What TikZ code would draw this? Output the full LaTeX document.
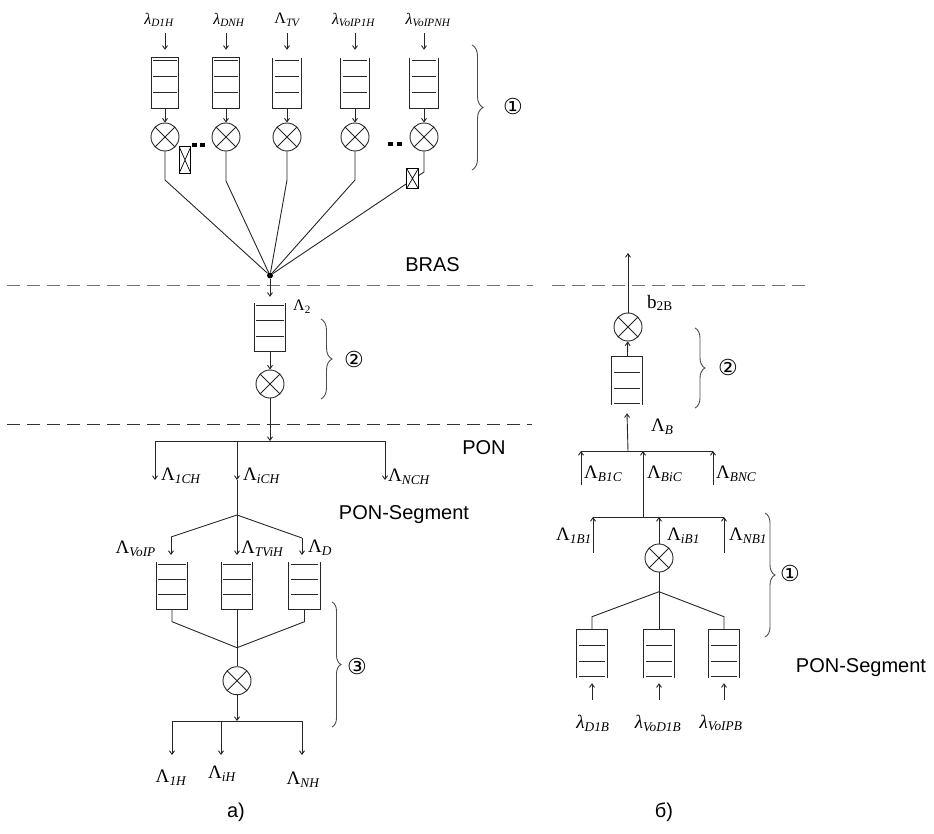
\documentclass[tikz,border=0pt]{standalone}
\usepackage{fontspec}
\setmainfont{Liberation Serif}
\newfontfamily\arialf{Liberation Sans}
\newfontfamily\dejavuf{DejaVu Sans}
\usetikzlibrary{arrows.meta,calc,decorations.pathreplacing}
\newcommand{\La}[1]{Λ\textsubscript{\itshape #1}}
\newcommand{\la}[1]{\textit{λ}\textsubscript{\itshape #1}}
\newcommand{\qdown}[1]{%
  \draw[ln] (#1.north west) -- (#1.south west) -- (#1.south east) -- (#1.north east);
  \foreach \f in {0.05,0.37,0.69} \draw[ln] ($(#1.north west)!\f!(#1.south west)+(2,0)$) -- ($(#1.north east)!\f!(#1.south east)+(-2,0)$);}
\newcommand{\qup}[1]{%
  \draw[ln] (#1.south west) -- (#1.north west) -- (#1.north east) -- (#1.south east);
  \foreach \f in {0.33,0.65,0.96} \draw[ln] ($(#1.north west)!\f!(#1.south west)+(2,0)$) -- ($(#1.north east)!\f!(#1.south east)+(-2,0)$);}
\begin{document}
\begin{tikzpicture}[x=1pt,y=-1pt,
  ln/.style={line width=0.9pt, draw=black!85},
  arr/.style={ln, -{Straight Barb[length=3.5pt,width=5pt]}},
  dashln/.style={line width=1.3pt, dash pattern=on 13.3pt off 6.7pt},
  qn/.style={rectangle, draw=none, inner sep=0, minimum width=30pt, minimum height=48pt},
  mult/.style={circle, draw=black!85, line width=0.9pt, minimum size=28pt, inner sep=0,
    path picture={\draw[line width=0.9pt, draw=black!85] (path picture bounding box.north west) -- (path picture bounding box.south east)
      (path picture bounding box.south west) -- (path picture bounding box.north east);}},
  boxx/.style={rectangle, draw=black, line width=0.9pt, fill=white, inner sep=0, minimum width=11.7pt, minimum height=26.7pt,
    path picture={\draw[line width=0.7pt] (path picture bounding box.north west) -- (path picture bounding box.south east)
      (path picture bounding box.south west) -- (path picture bounding box.north east);}},
  dotn/.style={circle, fill=black, inner sep=0, minimum size=6pt},
  lbl/.style={font=\fontsize{19}{19}\selectfont, inner sep=1pt},
  lbls/.style={font=\fontsize{16}{16}\selectfont, inner sep=1pt},
  sans/.style={font=\arialf\fontsize{20}{20}\selectfont, inner sep=1pt},
  num/.style={font=\dejavuf\fontsize{22}{22}\selectfont, inner sep=0pt},
  brc/.style={draw=black!70, line width=0.9pt, decorate, decoration={brace, amplitude=#1}},
  brc/.default=10pt
]
\useasboundingbox (0,0) rectangle (934,834);

% dashed separators
\draw[dashln, draw=black!55] (7,285.5) -- (533,285.5);
\draw[dashln, draw=black!55] (551.7,285.5) -- (805,285.5);
\draw[dashln, draw=black!80] (7,424.3) -- (532,424.3);

% ---------- top section (a) ----------
\node[lbls] (l1) at (159,20) {\la{D1H}};
\node[lbls] (l2) at (229,20) {\la{DNH}};
\node[lbls] (l3) at (287,20) {\La{TV}};
\node[lbls] (l4) at (353.5,20) {\la{VoIP1H}};
\node[lbls] (l5) at (428,20) {\la{VoIPNH}};

\node[qn, minimum width=27pt, minimum height=50pt] (q1) at (165,83) {};
\node[qn, minimum width=27pt, minimum height=50pt] (q2) at (226,83) {};
\node[qn, minimum width=28pt, minimum height=50pt] (q3) at (287,83) {};
\node[qn, minimum width=28pt, minimum height=50pt] (q4) at (355,83) {};
\node[qn, minimum width=28pt, minimum height=50pt] (q5) at (424,83) {};
\qdown{q1}\qdown{q2}\qdown{q3}\qdown{q4}\qdown{q5}
\draw[ln] (q1.north west) -- (q1.north east);
\draw[ln] (q2.north west) -- (q2.north east);

\foreach \q in {q1,q2,q3,q4,q5}
  \draw[arr] ([yshift=25pt]\q.north) -- ([yshift=8pt]\q.north);

\node[mult] (m1) at (165,137) {};
\node[mult] (m2) at (226,137) {};
\node[mult] (m3) at (287,137) {};
\node[mult] (m4) at (355,137) {};
\node[mult] (m5) at (424,137) {};
\foreach \i in {1,...,5} \draw[arr] (q\i) -- (m\i);

\node[dotn] (J) at (270,275.5) {};
\coordinate (b1) at (165,180);
\coordinate (b2) at (226,181);
\coordinate (b3) at (287,180);
\coordinate (b4) at (355,180);
\coordinate (b5) at (424,172);
\foreach \i in {1,...,5} \draw[ln] (m\i) -- (b\i) -- (J);

\node[boxx] (x1) at (185,160) {};
\node[boxx, minimum height=20pt] (x5) at (412.5,178.5) {};

\fill (191.7,142.7) rectangle ++(5,4);
\fill (200,142.7) rectangle ++(5,4);
\fill (388.3,141.7) rectangle ++(5,4);
\fill (396.7,141.7) rectangle ++(5,4);

\draw[brc=11pt] (472,45) -- (472,170);
\node[num] (n1) at (513,106) {①};

\node[sans] (bras) at (432.5,265) {BRAS};

% ---------- middle ----------
\node[qn, minimum width=31pt, minimum height=48pt] (qm) at (270,327) {};
\qdown{qm}
\draw[arr, shorten >=6pt] (J) -- (qm);
\node[lbls, anchor=west] (lam2) at (292,307) {Λ\textsubscript{2}};
\node[mult] (mm) at (270,384) {};
\draw[arr] (qm) -- (mm);
\draw[brc=11pt] (321,319) -- (321,399);
\node[num] (n2) at (354,359) {②};

\coordinate (bc) at (270,441);
\coordinate (bl) at (155,441);
\coordinate (br) at (385,441);
\coordinate (bi) at (237,441);
\draw[arr] (mm) -- (bc);
\draw[ln] (bl) -- (br);
\coordinate (e1) at (155,480);
\coordinate (eN) at (385,480);
\coordinate (ei) at (237,480);
\draw[arr] (bl) -- (e1);
\draw[arr] (br) -- (eN);
\draw[arr] (bi) -- (ei);
\coordinate (S) at (237,515);
\draw[ln] (ei) -- (S);
\node[lbl, anchor=west] (L1CH) at (160,476) {\La{1CH}};
\node[lbl, anchor=west] (LiCH) at (242,476) {\La{iCH}};
\node[lbl, anchor=west] (LNCH) at (387,477) {\La{NCH}};

\node[sans] (pon) at (484,448) {PON};
\node[sans] (pons) at (404,515) {PON-Segment};

% ---------- lower (a) ----------
\coordinate (sl) at (171,537);
\coordinate (sr) at (302,538);
\coordinate (ta) at (171,555);
\coordinate (tb) at (237,555);
\coordinate (tc) at (302,555);
\draw[ln] (S) -- (sl);
\draw[ln] (S) -- (sr);
\draw[arr] (sl) -- (ta);
\draw[arr] (sr) -- (tc);
\draw[arr] (S) -- (tb);
\node[lbl, anchor=east] (LVoIP) at (157,549) {\La{VoIP}};
\node[lbl, anchor=west] (LTViH) at (240,549) {\La{TViH}};
\node[lbl, anchor=west] (LD) at (307,548) {\La{D}};

\node[qn, minimum width=31pt, minimum height=47pt] (qa) at (172,585.5) {};
\node[qn, minimum width=31pt, minimum height=47pt] (qb) at (237,585.5) {};
\node[qn, minimum width=31pt, minimum height=47pt] (qc) at (304.5,585.5) {};
\qdown{qa}\qdown{qb}\qdown{qc}

\coordinate (ma) at (172,621.7);
\coordinate (mc) at (304.5,621.7);
\coordinate (M) at (237,647.7);
\draw[ln] (qa.south) -- (ma) -- (M);
\draw[ln] (qc.south) -- (mc) -- (M);
\draw[ln] (qb.south) -- (M);
\node[mult] (mb) at (237,680.7) {};
\draw[ln] (M) -- (mb);

\coordinate (bb) at (237,721);
\coordinate (bbl) at (172,721);
\coordinate (bbr) at (302,721);
\coordinate (bbi) at (221,721);
\draw[arr] (mb) -- (bb);
\draw[ln] (bbl) -- (bbr);
\coordinate (f1) at (172,755);
\coordinate (fi) at (221,755);
\coordinate (fN) at (302,755);
\draw[arr] (bbl) -- (f1);
\draw[arr] (bbi) -- (fi);
\draw[arr] (bbr) -- (fN);
\node[lbl] (L1H) at (171,778) {\La{1H}};
\node[lbl] (LiH) at (222,774) {\La{iH}};
\node[lbl] (LNH) at (303,780) {\La{NH}};

\draw[brc=9pt] (332,602) -- (332,727);
\node[num] (n3) at (357,666) {③};

\node[sans] (capa) at (236,812) {a)};

% ---------- right (b) ----------
\coordinate (top) at (628,253);
\node[mult] (rm2) at (628,327) {};
\draw[arr] (rm2) -- (top);
\node[lbl, anchor=west] (b2B) at (646,303) {b\textsubscript{2B}};
\node[qn, minimum width=30pt, minimum height=48pt] (rq) at (627,381) {};
\qup{rq}
\draw[arr] (rq) -- (rm2);
\draw[brc=10pt] (695,328) -- (695,408);
\node[num] (rn2) at (728,367) {②};

\coordinate (ub) at (628,451);
\coordinate (ub1) at (581,451);
\coordinate (ubN) at (713,451);
\coordinate (ubi) at (643,451);
\draw[ln] (ub1) -- (ubN);
\draw[arr] (ub) -- ([yshift=-8pt]rq.south);
\node[lbl, anchor=west] (LB) at (650,427) {\La{B}};
\coordinate (u1) at (581,485);
\coordinate (uN) at (713,485);
\coordinate (ui) at (643,517);
\draw[arr] (u1) -- (ub1);
\draw[arr] (uN) -- (ubN);
\draw[arr] (ui) -- (ubi);
\node[lbl, anchor=west] (LB1C) at (583,474) {\La{B1C}};
\node[lbl, anchor=west] (LBiC) at (646,474) {\La{BiC}};
\node[lbl, anchor=west] (LBNC) at (715,474) {\La{BNC}};

\coordinate (lb1) at (593,517);
\coordinate (lbN) at (724,517);
\coordinate (lbi) at (659,517);
\draw[ln] (lb1) -- (lbN);
\coordinate (v1) at (593,553);
\coordinate (vN) at (724,553);
\draw[arr] (v1) -- (lb1);
\draw[arr] (vN) -- (lbN);
\node[mult] (rm1) at (659,558) {};
\draw[arr] (rm1) -- (lbi);
\node[lbl, anchor=east] (L1B1) at (593,536) {\La{1B1}};
\node[lbl, anchor=west] (LiB1) at (666,536) {\La{iB1}};
\node[lbl, anchor=west] (LNB1) at (728,536) {\La{NB1}};

\coordinate (M2) at (659,591.7);
\draw[ln] (M2) -- (rm1);
\node[qn] (rqa) at (592,654) {};
\node[qn] (rqb) at (659,654) {};
\node[qn] (rqc) at (724,654) {};
\qup{rqa}\qup{rqb}\qup{rqc}
\coordinate (m2a) at (592,616.7);
\coordinate (m2c) at (724,616.7);
\draw[ln] (M2) -- (m2a) -- (rqa.north);
\draw[ln] (M2) -- (m2c) -- (rqc.north);
\draw[ln] (M2) -- (rqb.north);
\foreach \q in {rqa,rqb,rqc}
  \draw[arr] ([yshift=-22pt]\q.south) -- ([yshift=-5pt]\q.south);
\node[lbl] (lD1B) at (593,723) {\la{D1B}};
\node[lbl] (lVoD1B) at (658,723) {\la{VoD1B}};
\node[lbl] (lVoIPB) at (721,723) {\la{VoIPB}};

\draw[brc=10pt] (765,513) -- (765,637);
\node[num] (rn1) at (790,573) {①};
\node[sans] (pons2) at (861,668) {PON-Segment};

\node[sans] (capb) at (664,812) {б)};
\end{tikzpicture}
\end{document}
